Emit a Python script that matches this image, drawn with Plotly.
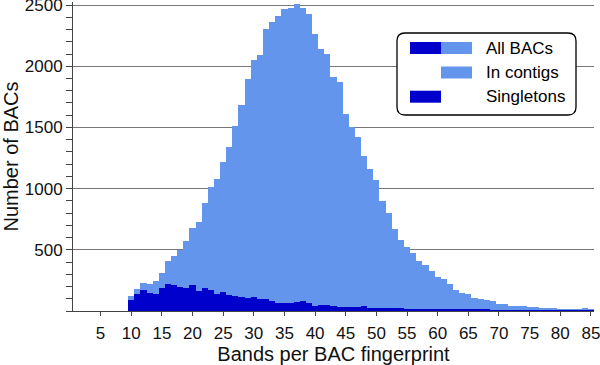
import plotly.graph_objects as go

bands = list(range(10, 86))
all_bacs = [122, 177, 226, 218, 242, 311, 408, 452, 501, 572,
            678, 724, 880, 1010, 1078, 1215, 1342, 1514, 1680, 1898,
            2048, 2092, 2304, 2359, 2408, 2465, 2478, 2512, 2476, 2429,
            2263, 2141, 2097, 1912, 1874, 1609, 1501, 1424, 1269, 1163,
            1070, 902, 803, 674, 583, 522, 473, 411, 377, 328,
            280, 259, 221, 170, 145, 141, 110, 97, 89, 85,
            60, 57, 44, 38, 38, 31, 30, 27, 22, 22,
            18, 17, 18, 17, 27, 18]
singletons = [90, 136, 169, 150, 141, 191, 222, 210, 196, 191,
              210, 162, 186, 169, 137, 154, 128, 123, 114, 109,
              112, 96, 96, 79, 66, 65, 64, 74, 82, 63,
              43, 49, 49, 41, 34, 33, 33, 32, 38, 27,
              27, 25, 24, 22, 21, 20, 18, 17, 16, 15,
              14, 14, 13, 12, 11, 11, 10, 9, 9, 8,
              8, 7, 7, 6, 6, 5, 5, 5, 4, 4,
              4, 3, 3, 3, 4, 3]
x_ticks = list(range(5, 90, 5))
y_ticks = [500, 1000, 1500, 2000, 2500]
legend_labels = ["All BACs", "In contigs", "Singletons"]

LIGHT = "#6495ED"
DARK = "#0000CD"
FONT = "Liberation Sans, Arial, sans-serif"

W, H = 600, 365
ML, MR, MT, MB = 73, 6, 2, 54
PW, PH = W - ML - MR, H - MT - MB


def px(x):
    return (x - ML) / PW


def py(y):
    return (H - MB - y) / PH


fig = go.Figure()
fig.add_trace(go.Bar(x=bands, y=all_bacs, width=1, marker=dict(color=LIGHT, line=dict(width=0)),
                     name="All BACs", showlegend=False))
fig.add_trace(go.Bar(x=bands, y=singletons, width=1, marker=dict(color=DARK, line=dict(width=0)),
                     name="Singletons", showlegend=False))

# Legend box (rounded)
x0, x1, y0, y1 = px(397), px(576), py(115), py(33)
rx, ry = 8 / PW, 8 / PH
path = (f"M {x0+rx},{y1} L {x1-rx},{y1} Q {x1},{y1} {x1},{y1-ry} "
        f"L {x1},{y0+ry} Q {x1},{y0} {x1-rx},{y0} L {x0+rx},{y0} "
        f"Q {x0},{y0} {x0},{y0+ry} L {x0},{y1-ry} Q {x0},{y1} {x0+rx},{y1} Z")
shapes = [dict(type="path", path=path, xref="paper", yref="paper",
               fillcolor="white", line=dict(color="black", width=1.3), layer="above")]

rows = [48, 72.5, 96.7]
swatches = [[(410, 441, DARK), (441, 472, LIGHT)], [(441, 472, LIGHT)], [(410, 441, DARK)]]
annotations = []
for label, cy, sw in zip(legend_labels, rows, swatches):
    for a, b, c in sw:
        shapes.append(dict(type="rect", xref="paper", yref="paper",
                           x0=px(a), x1=px(b), y0=py(cy + 6), y1=py(cy - 6),
                           fillcolor=c, line=dict(width=0), layer="above"))
    annotations.append(dict(text=label, xref="paper", yref="paper", x=px(484), y=py(cy),
                            xanchor="left", yanchor="middle", showarrow=False,
                            font=dict(size=17, color="black", family=FONT)))

fig.update_layout(
    width=W, height=H,
    margin=dict(l=ML, r=MR, t=MT, b=MB, autoexpand=False),
    paper_bgcolor="white", plot_bgcolor="white",
    barmode="overlay", bargap=0,
    font=dict(family=FONT, size=17, color="#111"),
    shapes=shapes, annotations=annotations,
    xaxis=dict(range=[0.5, 85.5], tickmode="array", tickvals=x_ticks,
               ticks="outside", ticklen=4, tickcolor="#444",
               ticklabeloverflow="allow", ticklabelstandoff=3,
               showline=True, linecolor="#444", linewidth=1,
               showgrid=False, zeroline=False, automargin=False,
               title=dict(text="Bands per BAC fingerprint", standoff=8)),
    yaxis=dict(range=[0, 2525], tickmode="array", tickvals=y_ticks,
               ticks="outside", ticklen=6, tickcolor="#444",
               ticklabeloverflow="allow",
               minor=dict(tickmode="linear", tick0=0, dtick=100, ticks="outside",
                          ticklen=6, tickcolor="#444", showgrid=False),
               showline=True, linecolor="#444", linewidth=1, automargin=False,
               showgrid=True, gridcolor="#777", gridwidth=1, zeroline=False,
               title=dict(text="Number of BACs", standoff=6)),
)

fig.write_html("out.html", config={"displayModeBar": False},
               post_script="document.body.style.margin='0';")
